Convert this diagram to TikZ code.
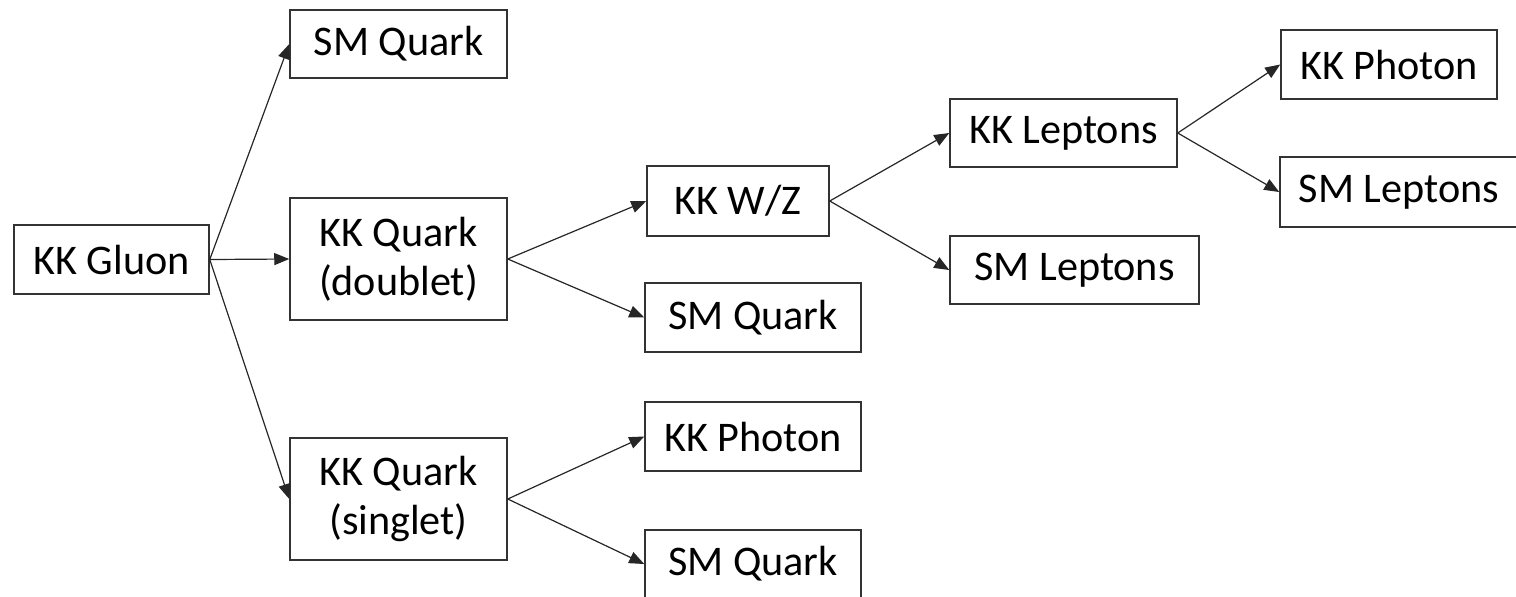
\documentclass[tikz,border=0pt]{standalone}
\usepackage{fontspec}
\setmainfont{Carlito}
\usetikzlibrary{arrows.meta}
\begin{document}
\begin{tikzpicture}[x=0.5pt,y=-0.5pt,
  box/.style={draw=black!80,line width=0.75pt,inner sep=0pt,align=center,
    font=\fontsize{21.1pt}{24.5pt}\selectfont},
  conn/.style={draw=black!85,line width=0.6pt,-{Triangle[length=7.5pt,width=6pt]}}]
\useasboundingbox (0,0) rectangle (1516,596);
\node[box,minimum width=97.5pt,minimum height=34.5pt] (gluon) at (111.5,259.5) {KK Gluon};
\node[box,minimum width=108.5pt,minimum height=34pt] (smq1) at (398.5,44) {SM Quark};
\node[box,minimum width=108.5pt,minimum height=61pt] (dbl) at (398.5,259) {KK Quark\\(doublet)};
\node[box,minimum width=108.5pt,minimum height=61pt] (sgl) at (398.5,499) {KK Quark\\(singlet)};
\node[box,minimum width=91pt,minimum height=35pt] (wz) at (738,201) {KK W/Z};
\node[box,minimum width=108pt,minimum height=34.5pt] (smq2) at (753,317.5) {SM Quark};
\node[box,minimum width=108pt,minimum height=34.5pt] (kkph1) at (753,436.5) {KK Photon};
\node[box,minimum width=108pt,minimum height=34pt] (smq3) at (753,564) {SM Quark};
\node[box,minimum width=113.5pt,minimum height=34pt] (kkl) at (1063.5,133) {KK Leptons};
\node[box,minimum width=124.5pt,minimum height=34pt] (sml1) at (1074.5,270) {SM Leptons};
\node[box,minimum width=108pt,minimum height=34.5pt] (kkph2) at (1389,64.5) {KK Photon};
\node[box,minimum width=119pt,minimum height=35pt] (sml2) at (1399,192) {SM Leptons};
\draw[conn] (gluon.east) -- (smq1.west);
\draw[conn] (gluon.east) -- (dbl.west);
\draw[conn] (gluon.east) -- (sgl.west);
\draw[conn] (dbl.east) -- (wz.west);
\draw[conn] (dbl.east) -- (smq2.west);
\draw[conn] (sgl.east) -- (kkph1.west);
\draw[conn] (sgl.east) -- (smq3.west);
\draw[conn] (wz.east) -- (kkl.west);
\draw[conn] (wz.east) -- (sml1.west);
\draw[conn] (kkl.east) -- (kkph2.west);
\draw[conn] (kkl.east) -- (sml2.west);
\end{tikzpicture}
\end{document}
